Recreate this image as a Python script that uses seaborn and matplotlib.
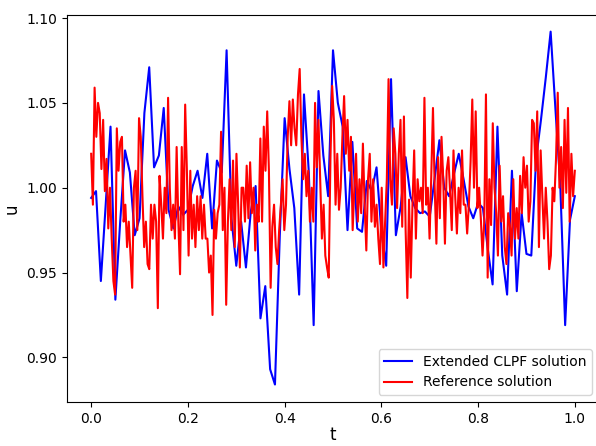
import numpy as np
import matplotlib
matplotlib.use("Agg")
import matplotlib.pyplot as plt
import seaborn as sns

clpf_u = [0.994, 0.998, 0.945, 0.990, 1.036, 0.934, 0.980, 1.022, 1.009, 0.972,
          0.982, 1.044, 1.071, 1.012, 1.019, 1.047, 0.987, 0.976, 0.989, 0.984,
          0.987, 1.001, 1.010, 0.994, 1.020, 0.976, 1.016, 1.009, 1.081, 0.982,
          0.954, 0.980, 0.953, 0.986, 1.001, 0.923, 0.942, 0.893, 0.884, 0.972,
          1.041, 1.011, 0.988, 0.937, 1.055, 1.009, 0.919, 1.057, 1.019, 0.995,
          1.081, 1.050, 1.036, 0.975, 1.027, 0.976, 0.974, 1.004, 0.998, 1.012,
          0.974, 0.954, 1.064, 0.972, 0.989, 1.018, 0.995, 0.988, 0.985, 0.986,
          0.983, 1.005, 1.028, 1.000, 0.995, 1.008, 1.020, 1.005, 0.989, 0.982,
          0.991, 0.988, 0.964, 0.943, 1.036, 0.960, 0.937, 1.010, 0.939, 0.985,
          0.961, 0.960, 1.017, 1.040, 1.065, 1.092, 1.046, 1.001, 0.919, 0.981,
          0.995]

ref_u = [1.020, 0.990, 1.059, 1.030, 1.050, 1.044, 1.011, 1.040, 0.998, 1.017,
         0.976, 1.000, 0.970, 0.945, 0.937, 1.035, 1.010, 1.027, 1.030, 0.980,
         0.990, 0.965, 0.980, 0.960, 0.941, 1.000, 1.010, 0.975, 1.041, 1.030,
         0.995, 0.965, 0.980, 0.955, 0.952, 0.990, 0.970, 0.990, 0.980, 0.929,
         1.007, 0.990, 0.970, 1.000, 0.985,
         1.053, 1.000, 0.975, 0.990, 0.970, 1.024, 0.980, 0.949, 1.024, 0.975,
         1.049, 1.010, 0.960, 1.010, 0.970, 0.990, 0.965, 0.995, 0.975, 0.995,
         0.970, 0.990, 0.970, 0.970, 0.950, 0.960, 0.925, 0.987, 0.970, 0.985,
         0.990, 1.033, 0.975, 1.000, 0.931, 0.980, 1.005, 0.975, 1.016, 0.965,
         1.020, 0.990, 0.953, 1.000, 1.000, 0.980,
         1.013, 0.982, 1.015, 0.985, 1.000, 0.963, 0.990, 0.980, 1.029, 0.980,
         1.036, 1.010, 1.045, 1.010, 0.941, 0.977, 0.990, 0.965, 0.955, 0.975,
         0.990, 1.005, 0.975, 0.990, 1.030, 1.051, 1.025, 1.052, 1.035, 1.025,
         1.055, 1.070, 1.030, 1.005, 1.020, 0.995, 1.010, 0.980, 1.000, 0.980,
         1.050, 1.012, 1.040, 1.005, 0.970, 0.990, 0.960,
         0.953, 0.947, 1.017, 1.060, 1.040, 0.990, 1.020, 0.987, 1.000, 1.030,
         1.054, 1.020, 1.040, 1.010, 1.030, 0.975, 1.000, 1.020, 0.980, 1.005,
         0.985, 1.026, 0.990, 0.963, 1.005, 1.020, 0.980, 1.005, 0.977, 0.990,
         0.970, 0.955, 1.000, 0.953, 0.980, 1.005, 1.064, 1.005, 0.990, 1.035,
         1.020, 0.988, 1.020, 1.040, 0.977,
         1.042, 0.975, 0.935, 0.993, 0.947, 0.990, 1.022, 0.970, 1.005, 0.992,
         1.000, 0.985, 1.053, 0.990, 1.000, 0.970, 1.007, 1.047, 1.000, 0.967,
         1.018, 0.982, 1.030, 1.005, 0.967, 1.010, 1.018, 0.998, 0.975, 1.022,
         0.995, 0.973, 1.000, 0.985, 1.022, 0.990, 0.990, 0.973, 0.990, 1.015,
         1.052, 1.000, 1.045, 0.988, 1.000, 0.982, 0.960, 0.980, 1.055, 0.947,
         1.005, 0.978, 1.038, 1.000, 0.985, 0.960, 1.013, 0.980, 0.995, 0.965,
         0.955, 0.985, 0.978, 0.960, 1.005, 0.970, 0.988, 0.970, 1.007, 0.985,
         1.018, 1.000, 1.013, 0.980, 0.992, 1.040, 1.038, 1.010, 1.045, 0.965,
         1.022, 0.995, 0.970, 1.000, 0.980, 0.952, 0.960, 1.000, 0.992, 1.017,
         1.056, 1.000, 1.024, 0.988, 1.040, 0.997, 1.047, 0.980, 1.020, 0.995,
         1.010]

t_clpf = np.linspace(0, 1, len(clpf_u))
t_ref = np.linspace(0, 1, len(ref_u))

fig = plt.figure(figsize=(5.96, 4.46), dpi=100)
ax = fig.add_axes([67 / 596, 44 / 446, 532 / 596, 387 / 446])

sns.lineplot(x=t_clpf, y=clpf_u, ax=ax, color="blue", linewidth=1.5,
             label="Extended CLPF solution", estimator=None, sort=False)
sns.lineplot(x=t_ref, y=ref_u, ax=ax, color="red", linewidth=1.5,
             label="Reference solution", estimator=None, sort=False)

ax.set_xlim(-0.05, 1.05)
ax.set_ylim(0.8737, 1.1018)
ax.set_xticks([0.0, 0.2, 0.4, 0.6, 0.8, 1.0])
ax.set_yticks([0.90, 0.95, 1.00, 1.05, 1.10])
ax.set_xlabel("t", fontsize=12, labelpad=0)
ax.set_ylabel("u", fontsize=12)
ax.tick_params(labelsize=10)
ax.legend(loc="lower right", fontsize=10)

fig.savefig("out.png", dpi=100)
